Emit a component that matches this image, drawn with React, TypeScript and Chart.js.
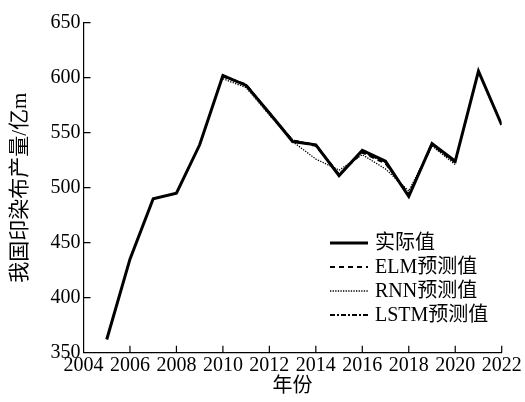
import React, { useEffect, useRef } from "react";
import { Chart, registerables } from "chart.js";

Chart.register(...registerables);

const years = [2005, 2006, 2007, 2008, 2009, 2010, 2011, 2012, 2013, 2014, 2015, 2016, 2017, 2018, 2019, 2020, 2021, 2022];
const actual = [362, 435, 490, 495, 539, 602, 593, 568, 542, 539, 511, 534, 524, 492, 540, 524, 606, 557];
const predYears = [2010, 2011, 2012, 2013, 2014, 2015, 2016, 2017, 2018, 2019, 2020];
const elm = [601, 594, 567, 543, 538, 512, 532, 522, 494, 539, 523];
const rnn = [599, 591, 566, 542, 526, 516, 530, 517, 497, 538, 521];
const lstm = [602, 593, 568, 543, 539, 512, 533, 523, 493, 540, 523];
const seriesNames = ["实际值", "ELM预测值", "RNN预测值", "LSTM预测值"];
const xTitle = "年份";
const yTitle = "我国印染布产量/亿m";

const FONT = "\"Liberation Serif\", \"Noto Sans CJK SC\", serif";

Chart.defaults.font.family = FONT;
Chart.defaults.color = "#000";

const toPts = (xs: number[], ys: number[]) => xs.map((x, i) => ({ x, y: ys[i] }));

const innerTicks = {
  id: "innerTicks",
  afterDraw(chart: any) {
    const ctx = chart.ctx;
    const { left, bottom } = chart.chartArea;
    const xs = chart.scales.x;
    const ys = chart.scales.y;
    ctx.save();
    ctx.strokeStyle = "#000";
    ctx.lineWidth = 1.2;
    ctx.beginPath();
    xs.ticks.forEach((t: any) => {
      const px = xs.getPixelForValue(t.value);
      if (Math.abs(px - left) < 2) return;
      ctx.moveTo(px, bottom);
      ctx.lineTo(px, bottom - 7);
    });
    ys.ticks.forEach((t: any) => {
      const py = ys.getPixelForValue(t.value);
      if (Math.abs(py - bottom) < 2) return;
      ctx.moveTo(left, py);
      ctx.lineTo(left + 7, py);
    });
    ctx.stroke();
    ctx.restore();
  },
};

const customLegend = {
  id: "customLegend",
  afterDraw(chart: any) {
    const ctx = chart.ctx;
    const x0 = 330;
    const x1 = 368;
    const tx = 375;
    const y0 = 243;
    const dy = 24;
    ctx.save();
    chart.data.datasets.forEach((ds: any, i: number) => {
      const y = y0 + i * dy;
      ctx.strokeStyle = "#000";
      ctx.lineWidth = ds.borderWidth;
      ctx.setLineDash(ds.borderDash || []);
      ctx.beginPath();
      ctx.moveTo(x0, y);
      ctx.lineTo(x1, y);
      ctx.stroke();
      ctx.setLineDash([]);
      ctx.fillStyle = "#000";
      ctx.font = `20px ${FONT}`;
      ctx.textBaseline = "middle";
      ctx.textAlign = "left";
      ctx.fillText(ds.label, tx, y + 1);
    });
    ctx.restore();
  },
};

export default function App() {
  const ref = useRef<HTMLCanvasElement | null>(null);
  useEffect(() => {
    if (!ref.current) return;
    const chart = new Chart(ref.current, {
      type: "line",
      data: {
        datasets: [
          {
            label: seriesNames[0],
            data: toPts(years, actual),
            borderColor: "#000",
            borderWidth: 3,
            pointRadius: 0,
            tension: 0,
          },
          {
            label: seriesNames[1],
            data: toPts(predYears, elm),
            borderColor: "#000",
            borderWidth: 2,
            borderDash: [5, 4],
            pointRadius: 0,
            tension: 0,
          },
          {
            label: seriesNames[2],
            data: toPts(predYears, rnn),
            borderColor: "#000",
            borderWidth: 1.3,
            borderDash: [1.3, 1.3],
            pointRadius: 0,
            tension: 0,
          },
          {
            label: seriesNames[3],
            data: toPts(predYears, lstm),
            borderColor: "#000",
            borderWidth: 2,
            borderDash: [5, 2, 2, 2],
            pointRadius: 0,
            tension: 0,
          },
        ],
      } as any,
      options: {
        responsive: false,
        animation: false,
        layout: { padding: { top: 22.7, right: 23.3, left: 0, bottom: 0 } },
        plugins: { legend: { display: false }, tooltip: { enabled: false } },
        scales: {
          x: {
            type: "linear",
            min: 2004,
            max: 2022,
            grid: { display: false, drawTicks: false },
            border: { display: true, color: "#000", width: 1.2 },
            ticks: {
              stepSize: 2,
              color: "#000",
              font: { family: FONT, size: 20 },
              padding: 1,
              maxRotation: 0,
              autoSkip: false,
              callback: (v: any) => String(v),
            },
            title: {
              display: true,
              text: xTitle,
              color: "#000",
              font: { family: FONT, size: 20, lineHeight: 1.2 },
              padding: { top: 0, bottom: 3 },
            },
            afterFit: (s: any) => {
              s.height = 49.3;
            },
          },
          y: {
            type: "linear",
            min: 350,
            max: 650,
            grid: { display: false, drawTicks: false },
            border: { display: true, color: "#000", width: 1.2 },
            ticks: {
              stepSize: 50,
              color: "#000",
              font: { family: FONT, size: 20 },
              padding: 3,
            },
            title: {
              display: true,
              text: yTitle,
              color: "#000",
              font: { family: FONT, size: 21, lineHeight: 1.2 },
              padding: { top: 8, bottom: 0 },
            },
            afterFit: (s: any) => {
              s.width = 83.5;
            },
          },
        },
      } as any,
      plugins: [innerTicks, customLegend],
    });
    return () => chart.destroy();
  }, []);
  return (
    <div style={{ position: "absolute", left: 0, top: 0, width: 525, height: 402, background: "#fff" }}>
      <canvas ref={ref} width={525} height={402} style={{ display: "block" }} />
    </div>
  );
}
